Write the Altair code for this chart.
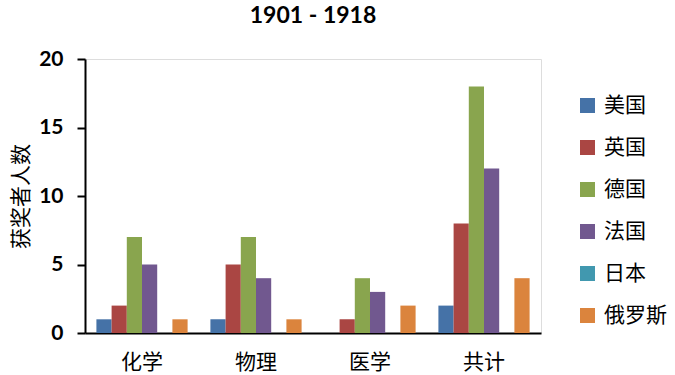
import altair as alt
import pandas as pd

categories = ["化学", "物理", "医学", "共计"]
countries = ["美国", "英国", "德国", "法国", "日本", "俄罗斯"]
colors = ["#4572A7", "#AA4643", "#89A54E", "#71588F", "#4198AF", "#DB843D"]
values = {
    "美国": [1, 1, 0, 2],
    "英国": [2, 5, 1, 8],
    "德国": [7, 7, 4, 18],
    "法国": [5, 4, 3, 12],
    "日本": [0, 0, 0, 0],
    "俄罗斯": [1, 1, 2, 4],
}

rows = []
for c in countries:
    for cat, v in zip(categories, values[c]):
        rows.append({"category": cat, "country": c, "value": v})
df = pd.DataFrame(rows)

CJK = "Noto Sans CJK SC"
NUM = "Lato"

chart = alt.Chart(df).mark_bar(strokeWidth=0).encode(
    x=alt.X("category:N", sort=categories,
            scale=alt.Scale(paddingInner=0.2, paddingOuter=0.1),
            axis=alt.Axis(title=None, labelAngle=0, ticks=False,
                          labelFont=CJK, labelFontSize=21, labelColor="black",
                          labelPadding=18, domainColor="black", domainWidth=2)),
    xOffset=alt.XOffset("country:N", sort=countries),
    y=alt.Y("value:Q", scale=alt.Scale(domain=[0, 20], nice=False),
            axis=alt.Axis(title="获奖者人数", values=[0, 5, 10, 15, 20], grid=False,
                          labelFont=NUM, labelFontWeight="bold", labelFontSize=21,
                          labelColor="black", labelPadding=14,
                          tickSize=8, tickWidth=2, tickColor="black",
                          domainColor="black", domainWidth=2,
                          titleFont=CJK, titleFontSize=21, titleFontWeight="normal",
                          titleColor="black", titlePadding=7)),
    color=alt.Color("country:N", sort=countries,
                    scale=alt.Scale(domain=countries, range=colors),
                    legend=alt.Legend(title=None, orient="none", legendX=492, legendY=36,
                                      symbolType="square", symbolSize=225,
                                      symbolStrokeWidth=0, labelFont=CJK,
                                      labelFontSize=21, labelColor="black",
                                      labelOffset=6, rowPadding=20)),
).properties(
    width=456,
    height=274,
    title=alt.TitleParams("1901 - 1918", font=NUM, fontSize=23, fontWeight="bold",
                          color="black", anchor="middle", offset=20),
    autosize=alt.AutoSizeParams(type="none"),
    padding={"left": 85, "top": 59, "right": 134, "bottom": 42},
).configure_view(stroke=None).configure(background="white")

chart.save("out.html", embed_options={"renderer": "svg", "actions": False})
